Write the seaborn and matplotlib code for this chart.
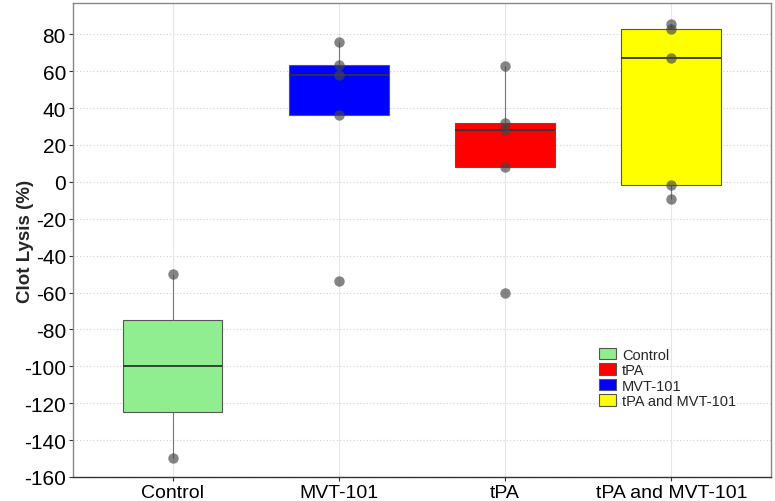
import numpy as np
import pandas as pd
import seaborn as sns
import matplotlib.pyplot as plt
from matplotlib.patches import Patch

groups = ['Control', 'MVT-101', 'tPA', 'tPA and MVT-101']
control_vals = [-50, -150]
mvt_vals = [76, 63.5, 58, 36, -54]
tpa_vals = [63, 32, 28, 8, -60]
combo_vals = [85.5, 83, 67, -1.5, -9.5]
box_colors = ['#90EE90', '#0000FF', '#FF0000', '#FFFF00']
legend_order = ['Control', 'tPA', 'MVT-101', 'tPA and MVT-101']


def build_frame():
    rows = []
    for name, vals in zip(groups, [control_vals, mvt_vals, tpa_vals, combo_vals]):
        for v in vals:
            rows.append({'group': name, 'lysis': v})
    return pd.DataFrame(rows)


def main():
    sns.set_style('white')
    plt.rcParams['font.family'] = ['Liberation Sans', 'DejaVu Sans']
    plt.rcParams['axes.unicode_minus'] = False

    df = build_frame()
    fig = plt.figure(figsize=(7.75, 5.02), dpi=100)
    ax = fig.add_axes([0.094, 0.048, 0.901, 0.944])

    # grid behind everything
    for y in range(-160, 81, 20):
        ax.axhline(y, color='#cfcfcf', lw=0.8, ls=(0, (1, 2)), zorder=0)
    for x in range(len(groups)):
        ax.axvline(x, color='#e6e6e6', lw=0.8, zorder=0)

    sns.boxplot(
        data=df, x='group', y='lysis', order=groups, hue='group', hue_order=groups,
        palette=box_colors, saturation=1, legend=False, width=0.6, showfliers=False,
        whis=1.5, linewidth=0.8, ax=ax,
        boxprops={'edgecolor': '#555555', 'zorder': 2},
        whiskerprops={'color': '#777777'},
        capprops={'visible': False},
        medianprops={'color': '#333333', 'linewidth': 1.3},
    )
    sns.stripplot(
        data=df, x='group', y='lysis', order=groups, jitter=False,
        color='#444444', alpha=0.65, size=7.5, ax=ax, zorder=3,
    )

    ax.set_xlim(-0.6, 3.6)
    ax.set_ylim(-160, 97)
    ax.set_yticks(range(-160, 81, 20))
    ax.set_xlabel('')
    ax.set_ylabel('Clot Lysis (%)', fontsize=13.5, fontweight='bold')
    ax.yaxis.set_label_coords(-0.055, 0.5)
    ax.tick_params(axis='x', labelsize=14, labelcolor='black', length=3,
                   color='#333333', pad=2, bottom=True)
    ax.tick_params(axis='y', labelsize=15, labelcolor='black', length=3,
                   color='#333333', pad=2, left=True)

    for side in ['top', 'right', 'left']:
        ax.spines[side].set_color('#888888')
        ax.spines[side].set_linewidth(1.0)
    ax.spines['bottom'].set_color('#333333')
    ax.spines['bottom'].set_linewidth(1.0)

    color_map = dict(zip(groups, box_colors))
    handles = [Patch(facecolor=color_map[g], edgecolor='#555555', linewidth=0.8, label=g)
               for g in legend_order]
    ax.legend(handles=handles, loc='upper left', bbox_to_anchor=(0.745, 0.285),
              frameon=False, fontsize=10.5, handlelength=1.2, handleheight=0.8,
              labelspacing=0.1, handletextpad=0.4, borderaxespad=0)

    fig.savefig('out.png', dpi=100)
    plt.close(fig)


if __name__ == "__main__":
    main()
